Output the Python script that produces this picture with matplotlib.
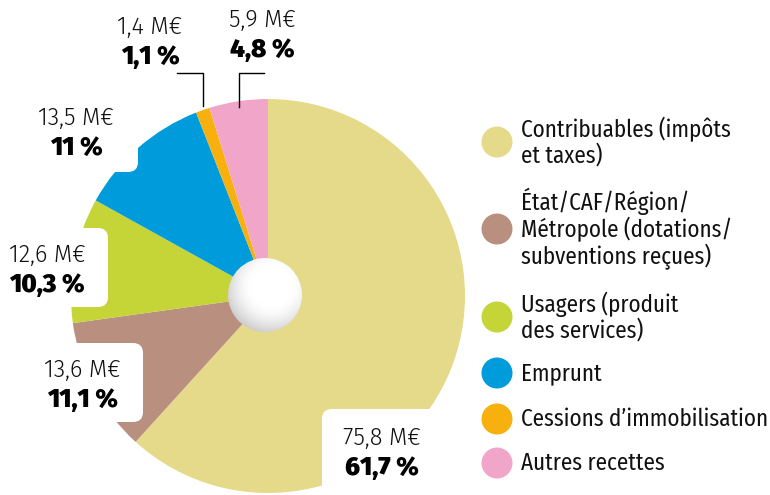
import numpy as np
import matplotlib
matplotlib.use("Agg")
from matplotlib import pyplot as plt
from matplotlib.patches import FancyBboxPatch, Circle

plt.rcParams['font.family'] = ['Fira Sans Condensed', 'Roboto Condensed', 'DejaVu Sans']
wide = ['Fira Sans', 'DejaVu Sans']

# data
categories = ["Contribuables (impôts\net taxes)",
              "État/CAF/Région/\nMétropole (dotations/\nsubventions reçues)",
              "Usagers (produit\ndes services)",
              "Emprunt",
              "Cessions d’immobilisation",
              "Autres recettes"]
values = [75.8, 13.6, 12.6, 13.5, 1.4, 5.9]
value_labels = ["75,8 M€", "13,6 M€", "12,6 M€", "13,5 M€", "1,4 M€", "5,9 M€"]
pct_labels = ["61,7 %", "11,1 %", "10,3 %", "11 %", "1,1 %", "4,8 %"]
colors = ["#E5DA8A", "#B99080", "#C5D437", "#009BDB", "#F7B00E", "#F1A6C9"]

fig = plt.figure(figsize=(7.7, 4.95), dpi=100)
ax = fig.add_axes([0, 0, 1, 1])

cx, cy, R = 268, 296, 197
ax.pie(values, colors=colors, startangle=-90, counterclock=True,
       center=(cx, cy), radius=R, wedgeprops=dict(linewidth=0))
ax.set_xlim(0, 770)
ax.set_ylim(495, 0)
ax.set_aspect('equal')
ax.axis('off')

# white label boxes cutting into the pie
boxes = [(322, 409, 200, 110), (-20, 343, 163, 79), (-20, 228, 128, 79), (-20, 95, 158, 77)]
for bx, by, bw, bh in boxes:
    ax.add_patch(FancyBboxPatch((bx + 10, by + 10), bw - 20, bh - 20,
                                boxstyle="round,pad=10", fc="white", ec="none", zorder=3))

# hole with soft shading
hx, hy, hr = 265, 295, 37
n = 200
gx, gy = np.meshgrid(np.linspace(hx - hr, hx + hr, n), np.linspace(hy - hr, hy + hr, n))
d = np.sqrt((gx - hx - 7) ** 2 + (gy - hy + 9) ** 2) / hr
g = 1 - 0.2 * np.clip((d - 0.55) / 0.75, 0, 1) ** 1.6
img = ax.imshow(np.dstack([g, g, g]), extent=(hx - hr, hx + hr, hy + hr, hy - hr),
                zorder=4, interpolation='bilinear')
clip = Circle((hx, hy), hr, transform=ax.transData)
img.set_clip_path(clip)
ax.set_xlim(0, 770)
ax.set_ylim(495, 0)

# labels
label_pos = [(382, 438), (82, 370), (47, 255), (76, 118), (150, 27), (262, 20)]
for (lx, ly), vl, pl in zip(label_pos, value_labels, pct_labels):
    ax.text(lx, ly, vl, ha='center', va='center', fontsize=17, fontweight=300,
            family=wide, color='#111111', zorder=5)
    ax.text(lx, ly + 30, pl, ha='center', va='center', fontsize=18.5,
            fontweight=900, family=wide, color='black', zorder=5)

# leader lines
ax.plot([177, 203, 203], [73, 73, 106], color='black', lw=1, zorder=5)
ax.plot([264, 239, 239], [73, 73, 107], color='black', lw=1, zorder=5)

# legend
leg_y = [142, 229, 317, 373, 419, 463]
for yy, c, lab in zip(leg_y, colors, categories):
    ax.add_patch(Circle((497, yy), 15.5, fc=c, ec='none', zorder=5))
    ax.text(521, yy, lab, ha='left', va='center', fontsize=16.6, color='#111111',
            linespacing=1.1, zorder=5)

fig.savefig("out.png", dpi=100)
